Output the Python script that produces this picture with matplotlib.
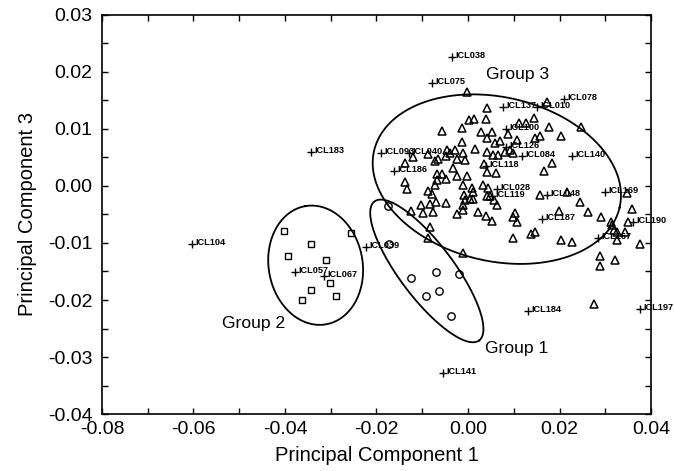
import numpy as np
import matplotlib
matplotlib.use('Agg')
import matplotlib.pyplot as plt
from matplotlib.ticker import MultipleLocator, FormatStrFormatter

plt.rcParams['font.family'] = ['Liberation Sans', 'DejaVu Sans']

# group 3 samples (triangles)
g3_pc1 = [-0.0003, 0.0042, 0.0172, 0.0145, 0.0003, 0.0013, 0.0039, -0.0057, -0.0013, 0.0028,
          0.0052, 0.0042, -0.0013, 0.0058, 0.0071, 0.0087, 0.0111, 0.0126, 0.0146, 0.0157,
          0.0176, 0.0203, 0.0246, 0.0106, -0.0045, -0.0028, 0.0015, 0.0041, 0.0055, 0.0066,
          0.0081, 0.0092, 0.0099, -0.0120, -0.0138, -0.0087, -0.0072, -0.0065, -0.0047, -0.0039,
          -0.0025, -0.0010, -0.0007, 0.0184, 0.0167, 0.0034, -0.0032, 0.0041, 0.0062, -0.0068,
          -0.0057, -0.0047, -0.0024, -0.0002, -0.0137, -0.0133, -0.0068, -0.0072, -0.0012, 0.0008,
          0.0010, 0.0012, 0.0033, 0.0043, -0.0087, -0.0079, -0.0009, 0.0041, 0.0048, 0.0004,
          -0.0007, 0.0056, 0.0064, -0.0070, -0.0048, -0.0082, -0.0102, -0.0099, -0.0124, -0.0077,
          -0.0010, -0.0012, -0.0025, 0.0021, 0.0040, 0.0053, 0.0102, 0.0099, 0.0106, 0.0157,
          0.0216, 0.0245, 0.0198, 0.0262, 0.0290, 0.0312, 0.0314, 0.0359, 0.0350, 0.0319,
          0.0325, 0.0343, 0.0325, 0.0377, -0.0083, -0.0088, 0.0098, 0.0137, 0.0146, 0.0204,
          0.0227, -0.0010, 0.0288, 0.0289, 0.0321, 0.0275, 0.0347]
g3_pc3 = [0.0165, 0.0136, 0.0148, 0.0119, 0.0115, 0.0118, 0.0117, 0.0096, 0.0101, 0.0094,
          0.0094, 0.0085, 0.0078, 0.0076, 0.0079, 0.0091, 0.0111, 0.0111, 0.0085, 0.0088,
          0.0104, 0.0088, 0.0104, 0.0081, 0.0064, 0.0063, 0.0065, 0.0060, 0.0055, 0.0054,
          0.0059, 0.0063, 0.0057, 0.0050, 0.0040, 0.0056, 0.0044, 0.0047, 0.0053, 0.0057,
          0.0047, 0.0058, 0.0046, 0.0041, 0.0026, 0.0038, 0.0031, 0.0025, 0.0022, 0.0021,
          0.0021, 0.0012, 0.0018, 0.0017, 0.0007, -0.0006, 0.0010, 0.0002, 0.0002, -0.0004,
          -0.0010, -0.0022, 0.0001, -0.0003, -0.0009, -0.0014, -0.0015, -0.0017, -0.0018, -0.0022,
          -0.0025, -0.0025, -0.0033, -0.0028, -0.0029, -0.0032, -0.0034, -0.0048, -0.0044, -0.0046,
          -0.0033, -0.0042, -0.0050, -0.0046, -0.0052, -0.0061, -0.0048, -0.0055, -0.0063, -0.0015,
          -0.0011, -0.0028, -0.0043, -0.0046, -0.0055, -0.0064, -0.0068, -0.0041, -0.0064, -0.0078,
          -0.0080, -0.0080, -0.0095, -0.0101, -0.0072, -0.0092, -0.0091, -0.0085, -0.0081, -0.0095,
          -0.0099, -0.0118, -0.0122, -0.0140, -0.0129, -0.0207, -0.0013]

# group 2 samples (squares)
g2_pc1 = [-0.0402, -0.0256, -0.0343, -0.0393, -0.0310, -0.0302, -0.0343, -0.0363, -0.0289]
g2_pc3 = [-0.0079, -0.0082, -0.0102, -0.0123, -0.0130, -0.0170, -0.0182, -0.0200, -0.0193]

# group 1 samples (circles)
g1_pc1 = [-0.0175, -0.0173, -0.0070, -0.0125, -0.0020, -0.0063, -0.0092, -0.0037]
g1_pc3 = [-0.0035, -0.0102, -0.0151, -0.0161, -0.0154, -0.0184, -0.0193, -0.0228]

# labelled samples (plus)
icl_names = ['ICL038', 'ICL075', 'ICL078', 'ICL137', 'ICL010', 'ICL100', 'ICL126', 'ICL084',
             'ICL140', 'ICL093', 'ICL040', 'ICL186', 'ICL118', 'ICL028', 'ICL119', 'ICL048',
             'ICL169', 'ICL190', 'ICL187', 'ICL167', 'ICL039', 'ICL184', 'ICL197', 'ICL141',
             'ICL183', 'ICL104', 'ICL057', 'ICL067']
icl_pc1 = [-0.0035, -0.0079, 0.0210, 0.0077, 0.0151, 0.0083, 0.0083, 0.0118,
           0.0227, -0.0190, -0.0129, -0.0162, 0.0039, 0.0063, 0.0052, 0.0173,
           0.0299, 0.0361, 0.0162, 0.0284, -0.0223, 0.0131, 0.0376, -0.0055,
           -0.0343, -0.0603, -0.0378, -0.0315]
icl_pc3 = [0.0226, 0.0181, 0.0153, 0.0139, 0.0139, 0.0100, 0.0068, 0.0053,
           0.0053, 0.0058, 0.0058, 0.0026, 0.0035, -0.0005, -0.0018, -0.0016,
           -0.0011, -0.0063, -0.0058, -0.0091, -0.0107, -0.0219, -0.0216, -0.0328,
           0.0060, -0.0102, -0.0151, -0.0158]

# group outlines: centre (pc1, pc3), semi axes in pixels, tilt in degrees
groups = ['Group 1', 'Group 2', 'Group 3']
ell_cx = [-0.0090, -0.0333, 0.0063]
ell_cy = [-0.0149, -0.0139, 0.0012]
ell_a = [87, 60, 126]
ell_b = [27, 47, 82]
ell_ang = [-53, 100, -13]
grp_x = [0.0037, -0.0538, 0.0039]
grp_y = [-0.0285, -0.0242, 0.0195]


def draw_ellipse(ax, cx, cy, a, b, ang):
    t = np.linspace(0, 2 * np.pi, 300)
    c = ax.transData.transform((cx, cy))
    th = np.radians(ang)
    px = c[0] + a * np.cos(t) * np.cos(th) - b * np.sin(t) * np.sin(th)
    py = c[1] + a * np.cos(t) * np.sin(th) + b * np.sin(t) * np.cos(th)
    d = ax.transData.inverted().transform(np.column_stack([px, py]))
    ax.plot(d[:, 0], d[:, 1], color='black', lw=1.3)


fig = plt.figure(figsize=(6.74, 4.71), dpi=100)
ax = fig.add_axes([0.1513, 0.121, 0.8146, 0.8472])
ax.set_xlim(-0.08, 0.04)
ax.set_ylim(-0.04, 0.03)

ax.plot(g3_pc1, g3_pc3, '^', ms=6, mfc='none', mec='black', mew=1.1)
ax.plot(g2_pc1, g2_pc3, 's', ms=4.8, mfc='none', mec='black', mew=1.0)
ax.plot(g1_pc1, g1_pc3, 'o', ms=5.3, mfc='none', mec='black', mew=1.0)
ax.plot(icl_pc1, icl_pc3, '+', ms=6, color='black', mew=1.0)
for name, x, y in zip(icl_names, icl_pc1, icl_pc3):
    ax.annotate(name, (x, y), xytext=(2.5, 1.2), textcoords='offset points',
                fontsize=6.6, fontweight='bold', ha='left', va='center')

for i in range(3):
    draw_ellipse(ax, ell_cx[i], ell_cy[i], ell_a[i], ell_b[i], ell_ang[i])
    ax.text(grp_x[i], grp_y[i], groups[i], fontsize=12.6, ha='left', va='center')

ax.xaxis.set_major_locator(MultipleLocator(0.02))
ax.xaxis.set_minor_locator(MultipleLocator(0.01))
ax.yaxis.set_major_locator(MultipleLocator(0.01))
ax.yaxis.set_minor_locator(MultipleLocator(0.005))
ax.xaxis.set_major_formatter(FormatStrFormatter('%.2f'))
ax.yaxis.set_major_formatter(FormatStrFormatter('%.2f'))
ax.tick_params(which='both', direction='in', top=True, right=True, length=4, width=1)
ax.tick_params(axis='x', labelsize=14, pad=5)
ax.tick_params(axis='y', labelsize=14, pad=7)
for s in ax.spines.values():
    s.set_linewidth(1.2)

ax.set_xlabel('Principal Component 1', fontsize=14.5, labelpad=6)
ax.set_ylabel('Principal Component 3', fontsize=14.5, labelpad=8)

fig.savefig('out.png', dpi=100)
